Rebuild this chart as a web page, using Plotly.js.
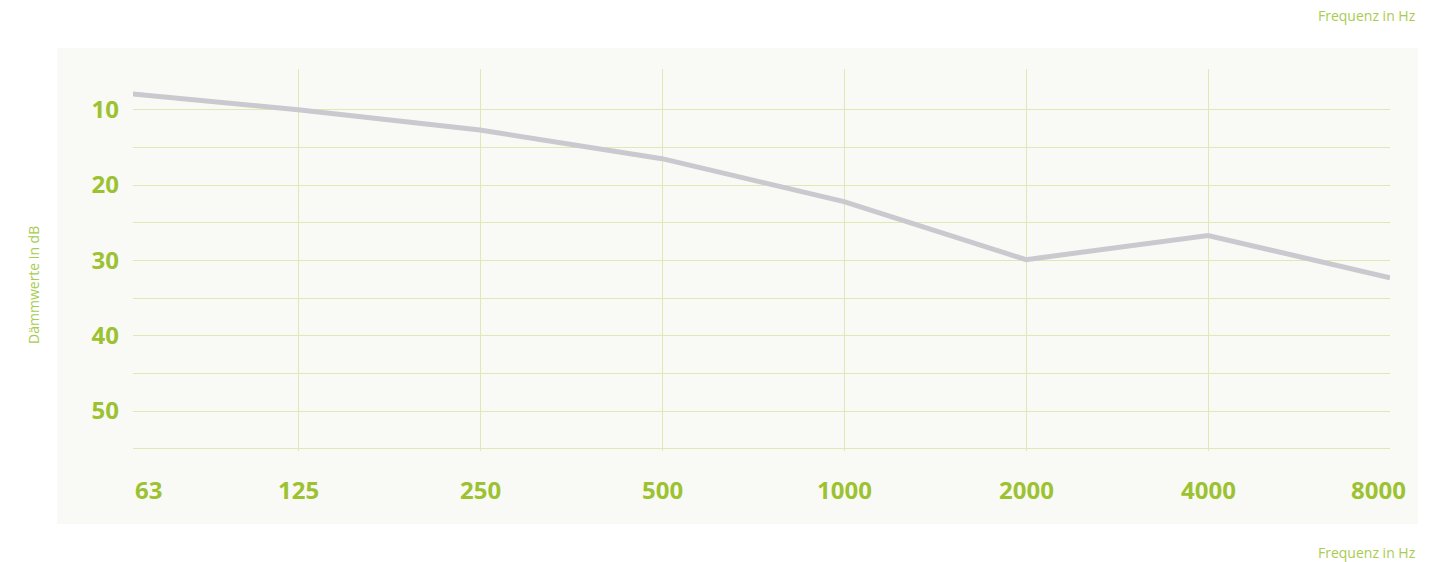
<!DOCTYPE html>
<html>
<head>
<meta charset="utf-8">
<script src="https://cdn.plot.ly/plotly-3.0.1.min.js"></script>
<style>
  html, body { margin: 0; padding: 0; background: #ffffff; }
  #chart { width: 1440px; height: 562px; }
</style>
</head>
<body>
<div id="chart"></div>
<script>
// Data
const freqLabels = ['63', '125', '250', '500', '1000', '2000', '4000', '8000'];
const dampingDb = [7.7, 10.0, 12.7, 16.5, 22.2, 29.9, 26.7, 32.3];
const yTickValues = [10, 20, 30, 40, 50];
const yMinorValues = [15, 25, 35, 45, 55];
const xAxisTitle = 'Frequenz in Hz';
const yAxisTitle = 'Dämmwerte in dB';

const idx = freqLabels.map((_, i) => i);

const green = '#9cc231';
const lightGreen = '#a9cc4f';
const gridGreen = '#dfe9b6';
const panelBg = '#f9faf5';

const trace = {
  type: 'scatter',
  mode: 'lines',
  x: idx,
  y: dampingDb,
  line: { color: '#c9c9cf', width: 5 },
  hoverinfo: 'skip'
};

const annotations = [];
freqLabels.forEach((lab, i) => {
  const a = {
    text: lab,
    xref: 'x', x: i,
    yref: 'paper', y: -0.0995,
    xanchor: 'center', yanchor: 'middle',
    showarrow: false,
    font: { family: 'Open Sans', size: 24, weight: 'bold', color: green }
  };
  if (i === 0) { a.xref = 'paper'; a.x = 0; a.xanchor = 'left'; }
  if (i === freqLabels.length - 1) { a.xref = 'paper'; a.x = 1.0143; a.xanchor = 'right'; }
  annotations.push(a);
});
annotations.push({
  text: xAxisTitle, xref: 'paper', yref: 'paper', x: 1.0223, y: 1.141,
  xanchor: 'right', yanchor: 'middle', showarrow: false,
  font: { family: 'Open Sans', size: 14, color: lightGreen }
});
annotations.push({
  text: xAxisTitle, xref: 'paper', yref: 'paper', x: 1.0223, y: -0.2644,
  xanchor: 'right', yanchor: 'middle', showarrow: false,
  font: { family: 'Open Sans', size: 14, color: lightGreen }
});
annotations.push({
  text: yAxisTitle, xref: 'paper', yref: 'paper', x: -0.0788, y: 0.4346,
  xanchor: 'center', yanchor: 'middle', textangle: -90, showarrow: false,
  font: { family: 'Open Sans', size: 14, color: lightGreen }
});

const layout = {
  width: 1440, height: 562,
  margin: { l: 133, r: 50, t: 69, b: 111 },
  paper_bgcolor: '#ffffff',
  plot_bgcolor: 'rgba(0,0,0,0)',
  showlegend: false,
  xaxis: {
    type: 'linear',
    range: [0.0934, 7.0],
    tickmode: 'array',
    tickvals: idx.slice(1, -1),
    ticktext: freqLabels.slice(1, -1),
    showticklabels: false,
    showgrid: true, gridcolor: gridGreen, gridwidth: 1,
    zeroline: false, showline: false, ticks: ''
  },
  yaxis: {
    range: [55.3, 4.6],
    tickmode: 'array',
    tickvals: yTickValues,
    ticktext: yTickValues.map(String),
    showgrid: true, gridcolor: gridGreen, gridwidth: 1,
    minor: { tickmode: 'array', tickvals: yMinorValues, showgrid: true, gridcolor: gridGreen, gridwidth: 1 },
    zeroline: false, showline: false, ticks: '',
    ticklabelstandoff: 13,
    tickfont: { family: 'Open Sans', size: 24, weight: 'bold', color: green }
  },
  shapes: [{
    type: 'rect', xref: 'paper', yref: 'paper', layer: 'below',
    x0: -0.0605, x1: 1.0223, y0: -0.191, y1: 1.055,
    fillcolor: panelBg, line: { width: 0 }
  }],
  annotations: annotations
};

Plotly.newPlot('chart', [trace], layout, { staticPlot: true, displayModeBar: false });
</script>
</body>
</html>
